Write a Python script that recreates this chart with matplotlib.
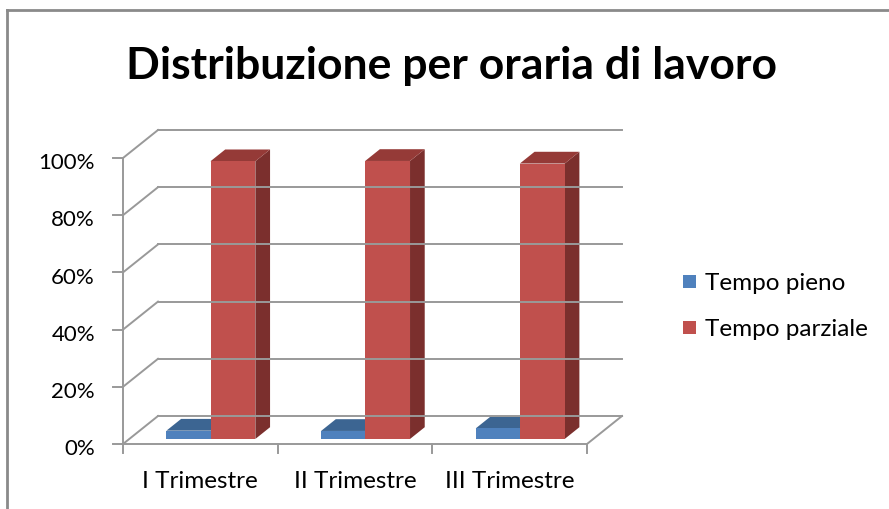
import matplotlib.pyplot as plt
from matplotlib.patches import Polygon, Rectangle
from matplotlib.lines import Line2D

# data
categories = ['I Trimestre', 'II Trimestre', 'III Trimestre']
series_names = ['Tempo pieno', 'Tempo parziale']
tempo_pieno = [2.9, 2.8, 3.7]
tempo_parziale = [97.1, 97.2, 96.3]
yticks = [0, 20, 40, 60, 80, 100]

FRONT = ['#4F81BD', '#C0504D']
TOP = ['#3C6592', '#953A37']
SIDE = ['#2F5079', '#7B2F2D']
GRID = '#999999'

W, H = 889, 510
plt.rcParams['font.family'] = ['Lato', 'DejaVu Sans']

fig = plt.figure(figsize=(W / 100, H / 100), dpi=100)

# front plane of the plot area, in pixels
x0, x1, yb, yt = 123, 587, 445, 159
ax = fig.add_axes([x0 / W, 1 - yb / H, (x1 - x0) / W, (yb - yt) / H])
ax.set_xlim(0, 3)
ax.set_ylim(0, 100)
ax.axis('off')

PX = (x1 - x0) / 3      # pixels per category
PY = (yb - yt) / 100    # pixels per percent

# depth offset of the back wall (pixels -> data units)
DX = 35 / PX
DY = 28 / PY


def proj(x, y, d):
    return (x + d * DX, y + d * DY)


def line(p, q, **kw):
    ax.add_line(Line2D([p[0], q[0]], [p[1], q[1]], color=GRID, lw=1.4,
                       clip_on=False, **kw))


# back wall gridlines and left wall diagonals
for v in yticks:
    line(proj(0, v, 1), proj(3, v, 1))
    line(proj(0, v, 0), proj(0, v, 1))
    ax.plot([-10 / PX, 0], [v, v], color=GRID, lw=1.4, clip_on=False)
    ax.text(-28 / PX, v - 1.5, f'{v}%', ha='right', va='center',
            fontsize=16, color='black')

# floor right edge, front axes
line(proj(3, 0, 0), proj(3, 0, 1))
line((0, 0), (3, 0))
line((0, 0), (0, 100))
for i in range(4):
    ax.plot([i, i], [0, -9 / PY], color=GRID, lw=1.4, clip_on=False)
for i, c in enumerate(categories):
    ax.text(i + 0.5, -37 / PY, c, ha='center', va='center',
            fontsize=17.5, color='black')

# bars: positions relative to the category start
bar_left = [0.24, 0.525]
bar_w = 0.29
d0, d1 = 0.18, 0.6


def draw_bar(xl, w, h, k):
    xr = xl + w
    ax.add_patch(Polygon([proj(xr, 0, d0), proj(xr, 0, d1), proj(xr, h, d1),
                          proj(xr, h, d0)], closed=True, fc=SIDE[k], ec='none',
                         clip_on=False))
    ax.add_patch(Polygon([proj(xl, h, d0), proj(xr, h, d0), proj(xr, h, d1),
                          proj(xl, h, d1)], closed=True, fc=TOP[k], ec='none',
                         clip_on=False))
    ax.add_patch(Polygon([proj(xl, 0, d0), proj(xr, 0, d0), proj(xr, h, d0),
                          proj(xl, h, d0)], closed=True, fc=FRONT[k], ec='none',
                         clip_on=False))


for i in range(len(categories)):
    for k, vals in enumerate([tempo_pieno, tempo_parziale]):
        draw_bar(i + bar_left[k], bar_w, vals[i], k)

# legend
for k, name in enumerate(series_names):
    y = 283 + k * 46
    fig.patches.append(Rectangle((683 / W, 1 - (y + 6) / H), 13 / W, 13 / H,
                                 transform=fig.transFigure, fc=FRONT[k], ec='none'))
    fig.text(705 / W, 1 - y / H, name, ha='left', va='center', fontsize=17.5)

# title
fig.text(451 / W, 1 - 66 / H, 'Distribuzione per oraria di lavoro', ha='center',
         va='center', fontsize=32, fontweight='bold')

# chart border (left and top visible)
fig.add_artist(Line2D([7 / W, 7 / W], [0, 1 - 11 / H], color='#8A8A8A', lw=2,
                      transform=fig.transFigure))
fig.add_artist(Line2D([7 / W, 1], [1 - 11 / H, 1 - 11 / H], color='#8A8A8A', lw=2,
                      transform=fig.transFigure))

fig.savefig('out.png', dpi=100)
